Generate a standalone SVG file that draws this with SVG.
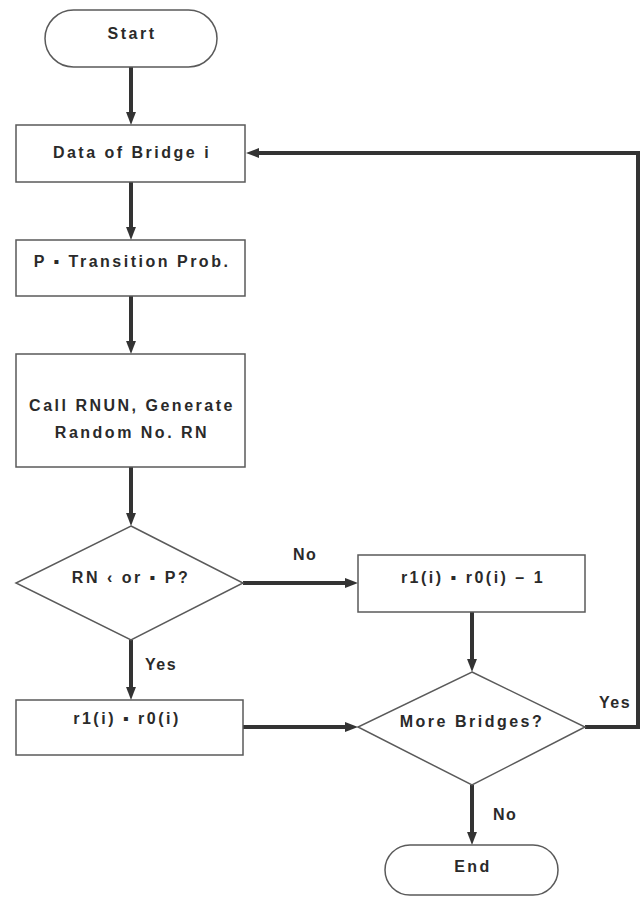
<svg xmlns="http://www.w3.org/2000/svg" width="642" height="899" viewBox="0 0 642 899">
<style>
.shape{fill:#fff;stroke:#5a5a5a;stroke-width:1.5}
.t{font-family:"Liberation Sans",Arial,sans-serif;font-size:16px;font-weight:bold;fill:#2a2a2a;letter-spacing:2.5px;text-anchor:middle}
.lbl{font-family:"Liberation Sans",Arial,sans-serif;font-size:16px;font-weight:bold;fill:#2a2a2a;letter-spacing:1.5px}
.c{fill:none;stroke:#333;stroke-width:4}
</style>
<defs>
<marker id="ah" markerWidth="3.4" markerHeight="2.6" refX="0.3" refY="1.3" orient="auto" markerUnits="strokeWidth">
<path d="M0,0.05 L3.3,1.3 L0,2.55 Z" fill="#333"/>
</marker>
</defs>
<rect width="642" height="899" fill="#fff"/>
<g id="connectors">
<line class="c" x1="131" y1="67" x2="131" y2="113" marker-end="url(#ah)"/>
<line class="c" x1="131" y1="182" x2="131" y2="228" marker-end="url(#ah)"/>
<line class="c" x1="131" y1="296" x2="131" y2="342" marker-end="url(#ah)"/>
<line class="c" x1="131" y1="467" x2="131" y2="514" marker-end="url(#ah)"/>
<line class="c" x1="243" y1="583" x2="346" y2="583" marker-end="url(#ah)"/>
<line class="c" x1="131" y1="640" x2="131" y2="688" marker-end="url(#ah)"/>
<line class="c" x1="472" y1="612" x2="472" y2="660" marker-end="url(#ah)"/>
<line class="c" x1="243" y1="727" x2="346" y2="727" marker-end="url(#ah)"/>
<line class="c" x1="472" y1="785" x2="472" y2="833" marker-end="url(#ah)"/>
<polyline class="c" points="585,727 638,727 638,153 258,153" marker-end="url(#ah)"/>
<text class="lbl" x="293" y="560">No</text>
<text class="lbl" x="145" y="670">Yes</text>
<text class="lbl" x="599" y="708">Yes</text>
<text class="lbl" x="493" y="820">No</text>
</g>
<g id="start">
<rect class="shape" x="45" y="10" width="172" height="57" rx="28.5"/>
<text class="t" x="132" y="39">Start</text>
</g>
<g id="data">
<rect class="shape" x="16" y="125" width="229" height="57"/>
<text class="t" x="132" y="158">Data of Bridge i</text>
</g>
<g id="prob">
<rect class="shape" x="16" y="240" width="229" height="56"/>
<text class="t" x="132" y="267">P ▪ Transition Prob.</text>
</g>
<g id="call">
<rect class="shape" x="16" y="354" width="229" height="113"/>
<text class="t" x="132" y="411">Call RNUN, Generate</text>
<text class="t" x="132" y="438">Random No. RN</text>
</g>
<g id="decision1">
<polygon class="shape" points="131,526 243,583 131,640 16,583"/>
<text class="t" x="131" y="583">RN ‹ or ▪ P?</text>
</g>
<g id="minus">
<rect class="shape" x="358" y="555" width="227" height="57"/>
<text class="t" x="473" y="583">r1(i) ▪ r0(i) – 1</text>
</g>
<g id="equal">
<rect class="shape" x="16" y="700" width="227" height="55"/>
<text class="t" x="127" y="724">r1(i) ▪ r0(i)</text>
</g>
<g id="decision2">
<polygon class="shape" points="472,672 585,727 472,785 358,727"/>
<text class="t" x="472" y="727">More Bridges?</text>
</g>
<g id="end">
<rect class="shape" x="385" y="845" width="173" height="50" rx="25"/>
<text class="t" x="473" y="872">End</text>
</g>
</svg>
